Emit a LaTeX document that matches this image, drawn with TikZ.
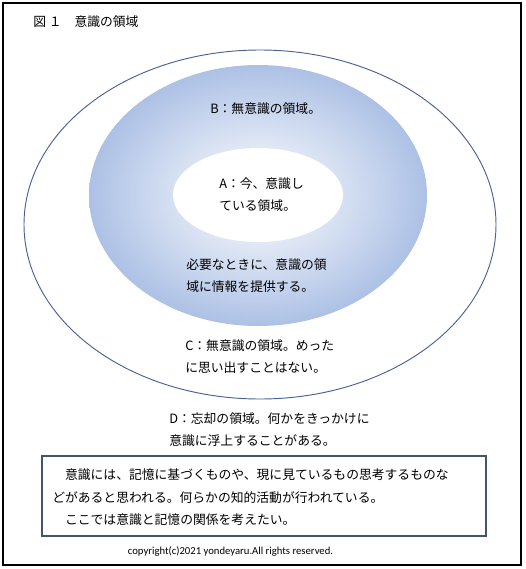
\documentclass[tikz,border=0pt]{standalone}
\usepackage{fontspec}
\setmainfont{Noto Sans CJK JP}
\newfontfamily\latinfont{Carlito}
\usepackage{tikz}

\definecolor{ringblue}{RGB}{173,193,229}
\definecolor{rimline}{RGB}{72,98,146}
\definecolor{boxline}{RGB}{68,84,106}
\tikzset{
	jtext/.style={inner sep=0pt, anchor=west, align=left, font=\fontsize{9.6}{16.5}\selectfont}
}

\begin{document}
\begin{tikzpicture}[x=0.75pt,y=-0.75pt]
	\useasboundingbox (0,0) rectangle (526,569);
	\draw[line width=0.9pt] (3,3) rectangle (521,565);
	\node[jtext] (title) at (33,22) {図 １　意識の領域};

	%\draw (260,224.5) ellipse [x radius=236, y radius=174.5];
	\filldraw[fill=white, draw=rimline, line width=0.7pt] (260,224.5) ellipse [x radius=236, y radius=174.5];
	\shade[inner color=white, outer color=ringblue] (258,195.5) ellipse [x radius=169, y radius=130.5];
	\fill[white] (258,195) ellipse [x radius=85, y radius=47];

	\node[jtext] (areaB) at (210,109) {B：無意識の領域。};
	\node[jtext] (areaA) at (219,194.5) {A：今、意識し\\ている領域。};
	\node[jtext] (areaBnote) at (186,276) {必要なときに、意識の領\\域に情報を提供する。};
	\node[jtext] (areaC) at (185,357) {C：無意識の領域。めった\\に思い出すことはない。};
	\node[jtext] (areaD) at (169,429.5) {D：忘却の領域。何かをきっかけに\\意識に浮上することがある。};

	\draw[boxline, line width=0.8pt] (42,456) rectangle (486,536);
	\node[jtext, font=\fontsize{9.6}{16.9}\selectfont] (note) at (52,497.5)
		{　意識には、記憶に基づくものや、現に見ているもの思考するものな\\どがあると思われる。何らかの知的活動が行われている。\\　ここでは意識と記憶の関係を考えたい。};
	\node[inner sep=0pt, font=\latinfont\fontsize{8}{10}\selectfont] (copyright) at (230.5,552)
		{copyright(c)2021 yondeyaru.All rights reserved.};
\end{tikzpicture}
\end{document}
